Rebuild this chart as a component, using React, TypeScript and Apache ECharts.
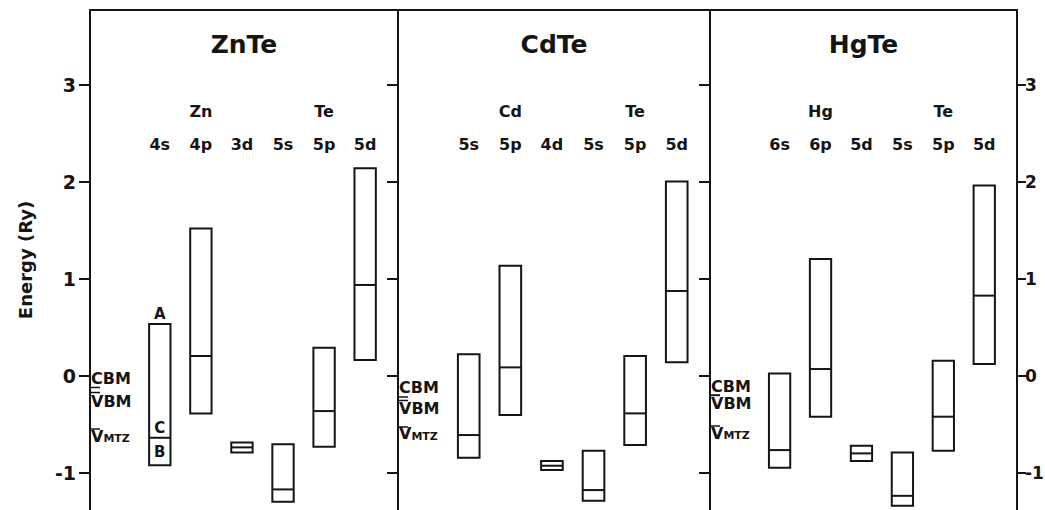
import React, { useEffect, useRef } from 'react';
import * as echarts from 'echarts';

// ---- data (Ry) ----
const compounds = ['ZnTe', 'CdTe', 'HgTe'];
const cations = ['Zn', 'Cd', 'Hg'];
const anions = ['Te', 'Te', 'Te'];
const orbitalsZnTe = ['4s', '4p', '3d', '5s', '5p', '5d'];
const orbitalsCdTe = ['5s', '5p', '4d', '5s', '5p', '5d'];
const orbitalsHgTe = ['6s', '6p', '5d', '5s', '5p', '5d'];

const znteBottom = [-0.918, -0.385, -0.787, -1.296, -0.729, 0.165];
const znteTop = [0.536, 1.52, -0.684, -0.704, 0.292, 2.14];
const znteMid = [-0.636, 0.206, -0.735, -1.168, -0.361, 0.938];

const cdteBottom = [-0.842, -0.402, -0.969, -1.285, -0.711, 0.141];
const cdteTop = [0.224, 1.137, -0.876, -0.77, 0.206, 2.003];
const cdteMid = [-0.608, 0.089, -0.924, -1.175, -0.385, 0.876];

const hgteBottom = [-0.945, -0.419, -0.876, -1.337, -0.77, 0.124];
const hgteTop = [0.027, 1.206, -0.718, -0.787, 0.158, 1.962];
const hgteMid = [-0.763, 0.072, -0.797, -1.234, -0.419, 0.828];

const cbm = [-0.118, -0.216, -0.196];
const vbm = [-0.17, -0.252, -0.2];
const vmtz = [-0.546, -0.525, -0.515];
const levelNames = ['CBM', 'VBM', 'V_MTZ'];
const znte4sRegions = ['A', 'C', 'B'];
const yTicks = [-1, 0, 1, 2, 3];

// ---- layout constants ----
const Y_MIN = -1.38;
const Y_MAX = 3.77;
const X_MIN = -1.7;
const X_MAX = 5.8;
const BOX_W = 0.52;
const TITLE_Y = 3.41;
const ELEMENT_Y = 2.72;
const ORBITAL_Y = 2.38;
const CATION_COL = 1;
const ANION_COL = 4;
const INK = '#151515';
const FONT = 'DejaVu Sans';

const panels = [
  { bottom: znteBottom, top: znteTop, mid: znteMid, orbitals: orbitalsZnTe },
  { bottom: cdteBottom, top: cdteTop, mid: cdteMid, orbitals: orbitalsCdTe },
  { bottom: hgteBottom, top: hgteTop, mid: hgteMid, orbitals: orbitalsHgTe },
];
const gridBounds = [
  { left: 90, right: 1045 - 398 },
  { left: 398, right: 1045 - 710 },
  { left: 710, right: 1045 - 1017 },
];

const txt = (text: string, x: number, y: number, size: number, align = 'center', vAlign = 'middle', extra: any = {}) => ({
  type: 'text',
  x,
  y,
  style: {
    text,
    fill: INK,
    fontFamily: FONT,
    fontWeight: 'bold',
    fontSize: size,
    textAlign: align,
    textVerticalAlign: vAlign,
    ...extra,
  },
});

export default function App() {
  const ref = useRef<HTMLDivElement>(null);
  useEffect(() => {
    if (!ref.current) return;
    const chart = echarts.init(ref.current, null, { renderer: 'svg' });
    const series: any[] = [];
    panels.forEach((p, pi) => {
      // bands
      series.push({
        type: 'custom',
        xAxisIndex: pi,
        yAxisIndex: pi,
        data: p.bottom.map((b, i) => [i, b, p.top[i], p.mid[i]]),
        renderItem: (params: any, api: any) => {
          const x = api.value(0);
          const lo = api.coord([x, api.value(1)]);
          const hi = api.coord([x, api.value(2)]);
          const md = api.coord([x, api.value(3)]);
          const w = api.size([BOX_W, 0])[0];
          const children: any[] = [
            {
              type: 'rect',
              shape: { x: hi[0] - w / 2, y: hi[1], width: w, height: lo[1] - hi[1] },
              style: { fill: 'none', stroke: INK, lineWidth: 2 },
            },
            {
              type: 'line',
              shape: { x1: hi[0] - w / 2, y1: md[1], x2: hi[0] + w / 2, y2: md[1] },
              style: { stroke: INK, lineWidth: 2 },
            },
          ];
          if (pi === 0 && params.dataIndex === 0) {
            children.push(txt(znte4sRegions[0], hi[0], hi[1] - 2, 15, 'center', 'bottom'));
            children.push(txt(znte4sRegions[1], hi[0], md[1] - 2, 15, 'center', 'bottom'));
            children.push(txt(znte4sRegions[2], hi[0], (md[1] + lo[1]) / 2 + 1, 15, 'center', 'middle'));
          }
          return { type: 'group', children };
        },
      });
      // labels: title, element names, orbital names
      series.push({
        type: 'custom',
        xAxisIndex: pi,
        yAxisIndex: pi,
        data: p.orbitals.map((_, i) => [i, ORBITAL_Y]),
        renderItem: (params: any, api: any) => {
          const i = params.dataIndex;
          const pt = api.coord([i, ORBITAL_Y]);
          const children: any[] = [txt(p.orbitals[i], pt[0], pt[1], 16)];
          if (i === CATION_COL) {
            const e = api.coord([i, ELEMENT_Y]);
            children.push(txt(cations[pi], e[0], e[1], 16));
          }
          if (i === ANION_COL) {
            const e = api.coord([i, ELEMENT_Y]);
            children.push(txt(anions[pi], e[0], e[1], 16));
          }
          if (i === 0) {
            const t = api.coord([(X_MIN + X_MAX) / 2, TITLE_Y]);
            children.push(txt(compounds[pi], t[0], t[1], 25));
          }
          return { type: 'group', children };
        },
      });
      // reference levels CBM, VBM, V_MTZ
      series.push({
        type: 'custom',
        xAxisIndex: pi,
        yAxisIndex: pi,
        data: [cbm[pi], vbm[pi], vmtz[pi]].map((v) => [X_MIN, v]),
        renderItem: (params: any, api: any) => {
          const i = params.dataIndex;
          const pt = api.coord([X_MIN, api.value(1)]);
          const children: any[] = [
            {
              type: 'line',
              shape: { x1: pt[0], y1: pt[1], x2: pt[0] + 10, y2: pt[1] },
              style: { stroke: INK, lineWidth: 1.5 },
            },
          ];
          const name = levelNames[i];
          if (i === 0) {
            children.push(txt(name, pt[0] + 1, pt[1] - 1, 16, 'left', 'bottom'));
          } else if (i === 1) {
            children.push(txt(name, pt[0] + 1, pt[1] + 0.5, 16, 'left', 'top'));
          } else {
            const [a, b] = name.split('_');
            children.push({
              type: 'text',
              x: pt[0] + 1,
              y: pt[1] - 1,
              style: {
                text: `{v|${a}}{s|${b}}`,
                fill: INK,
                textAlign: 'left',
                textVerticalAlign: 'top',
                rich: {
                  v: { fontFamily: FONT, fontWeight: 'bold', fontSize: 16, fill: INK, verticalAlign: 'bottom' },
                  s: { fontFamily: FONT, fontWeight: 'bold', fontSize: 11, fill: INK, verticalAlign: 'bottom' },
                },
              },
            });
          }
          return { type: 'group', children };
        },
      });
    });

    const axisFont = { fontFamily: FONT, fontWeight: 'bold', fontSize: 19, color: INK };
    const yAxes: any[] = gridBounds.map((_, i) => ({
      gridIndex: i,
      type: 'value',
      min: Y_MIN,
      max: Y_MAX,
      position: 'left',
      axisLine: { show: true, onZero: false, lineStyle: { color: INK, width: 2 } },
      axisTick: { show: true, inside: false, length: 11, customValues: yTicks, lineStyle: { color: INK, width: 2 } },
      axisLabel: { show: i === 0, customValues: yTicks, margin: 14, ...axisFont },
      splitLine: { show: false },
      name: i === 0 ? 'Energy (Ry)' : '',
      nameLocation: 'middle',
      nameGap: 56,
      nameTextStyle: { fontFamily: FONT, fontWeight: 'bold', fontSize: 18, color: INK },
    }));
    yAxes.push({
      gridIndex: 2,
      type: 'value',
      min: Y_MIN,
      max: Y_MAX,
      position: 'right',
      axisLine: { show: true, onZero: false, lineStyle: { color: INK, width: 2 } },
      axisTick: { show: true, inside: false, length: 9, customValues: yTicks, lineStyle: { color: INK, width: 2 } },
      axisLabel: { show: true, customValues: yTicks, margin: 8, ...axisFont, fontSize: 17 },
      splitLine: { show: false },
    });

    chart.setOption({
      animation: false,
      backgroundColor: '#ffffff',
      grid: gridBounds.map((g) => ({
        left: g.left,
        right: g.right,
        top: 10,
        bottom: 0,
        containLabel: false,
        outerBoundsMode: 'none',
      })),
      xAxis: gridBounds.map((_, i) => ({
        gridIndex: i,
        type: 'value',
        min: X_MIN,
        max: X_MAX,
        position: 'top',
        axisLine: { show: true, onZero: false, lineStyle: { color: INK, width: 2 } },
        axisTick: { show: false },
        axisLabel: { show: false },
        splitLine: { show: false },
      })),
      yAxis: yAxes,
      series,
    });
    return () => chart.dispose();
  }, []);
  return <div ref={ref} style={{ position: 'fixed', left: 0, top: 0, width: 1045, height: 510, background: '#fff' }} />;
}
